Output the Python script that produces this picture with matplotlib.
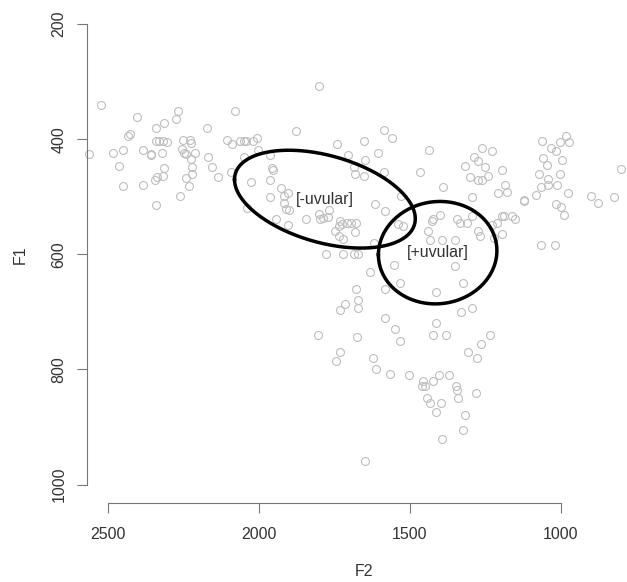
import numpy as np
import matplotlib
matplotlib.use("Agg")
from matplotlib import pyplot as plt

plt.rcParams['font.family'] = ['Liberation Sans', 'DejaVu Sans']

# vowel tokens, F2 and F1 in Hz, grouped by the part of the plot they sit in
f2_front = [2521, 2402, 2266, 2272, 2314, 2341, 2171, 2431, 2425, 2561, 2481, 2450,
            2461, 2382, 2357, 2356, 2341, 2329, 2316, 2303, 2321, 2252, 2226, 2223,
            2254, 2248, 2239, 2212, 2224, 2221, 2221, 2314, 2317, 2336, 2342, 2242,
            2229, 2259, 2449, 2382, 2341, 2168, 2156, 2133]
f1_front = [341, 361, 350, 365, 371, 381, 381, 394, 390, 425, 424, 418,
            446, 419, 425, 428, 403, 403, 403, 404, 424, 401, 402, 406,
            416, 424, 425, 423, 435, 448, 461, 450, 463, 466, 470, 468,
            482, 499, 482, 480, 514, 431, 448, 465]

f2_mid = [1802, 2078, 1876, 2105, 2089, 2061, 2050, 2042, 2020, 2004, 2003, 2049,
          1962, 1741, 1703, 1653, 1648, 1684, 1680, 1653, 2092, 2026, 1956, 1952,
          1962, 1927, 1915, 1902, 1962, 1917, 1910, 1899, 2040, 1944, 1902, 1845,
          1802, 1798, 1787, 1770, 1767, 1732, 1725, 1734, 1709, 1696, 1679, 1681,
          1748, 1734, 1720, 1776, 1722, 1684, 1671]
f1_mid = [307, 351, 386, 401, 409, 403, 403, 403, 403, 397, 419, 431,
          428, 408, 428, 403, 436, 448, 460, 464, 457, 474, 450, 453,
          470, 484, 499, 493, 500, 510, 521, 522, 520, 539, 549, 539,
          529, 538, 536, 535, 522, 542, 548, 550, 545, 546, 546, 561,
          560, 568, 574, 600, 600, 600, 600]

f2_back = [1587, 1560, 1604, 1587, 1438, 1468, 1389, 1317, 1289, 1262, 1229, 1273,
           1251, 1300, 1273, 1262, 1240, 1196, 1293, 1210, 1185, 1179, 1615, 1582,
           1529, 1538, 1521, 1427, 1400, 1422, 1345, 1334, 1312, 1295, 1440, 1433,
           1394, 1352, 1273, 1267, 1229, 1212, 1196, 1190, 1163, 1152, 1222, 1196,
           1620]
f1_back = [384, 397, 423, 456, 419, 457, 483, 446, 430, 415, 421, 438,
           448, 465, 470, 471, 464, 454, 500, 493, 479, 492, 513, 525,
           499, 548, 551, 542, 531, 539, 538, 546, 546, 534, 560, 575,
           575, 575, 560, 568, 549, 546, 533, 534, 534, 539, 571, 565,
           580]

f2_far = [1063, 985, 1003, 975, 1032, 1016, 1058, 1047, 997, 1073, 1044, 1003,
          1066, 1044, 1014, 1083, 977, 1124, 1121, 901, 879, 826, 800, 1016,
          1000, 990, 1066, 1019]
f1_far = [403, 395, 405, 405, 415, 420, 433, 444, 436, 461, 469, 460,
          483, 480, 479, 496, 493, 505, 508, 498, 510, 500, 451, 513,
          518, 531, 583, 583]

f2_low = [1552, 1632, 1533, 1583, 1677, 1671, 1671, 1713, 1732, 1412, 1351, 1324,
          1332, 1296, 1582, 1550, 1533, 1414, 1423, 1382, 1803, 1674, 1235, 1263,
          1307, 1279, 1732, 1743, 1621, 1612, 1566, 1503, 1456, 1461, 1450, 1423,
          1403, 1370, 1348, 1343, 1342, 1442, 1432, 1414, 1398, 1282, 1318, 1325,
          1392, 1650]
f1_low = [619, 630, 650, 660, 660, 679, 693, 687, 696, 665, 620, 650,
          700, 693, 710, 730, 750, 720, 740, 740, 740, 744, 740, 756,
          769, 780, 770, 785, 780, 799, 807, 810, 820, 829, 828, 820,
          810, 810, 828, 835, 849, 849, 859, 873, 859, 840, 879, 905,
          920, 959]

# ellipse for each group: centre, spread and correlation
ell_labels = ['[-uvular]', '[+uvular]']
ell_f2 = [1781, 1408]
ell_f1 = [504, 597]
ell_sd2 = [299, 196]
ell_sd1 = [85, 89]
ell_rho = [-0.40, 0.04]

F2 = f2_front + f2_mid + f2_back + f2_far + f2_low
F1 = f1_front + f1_mid + f1_back + f1_far + f1_low

fig = plt.figure(figsize=(6.27, 5.82), dpi=100)
ax = fig.add_axes([87 / 627, 79 / 582, 555 / 627, 497.2 / 582])

ax.plot(F2, F1, 'o', mfc='none', mec='#bebebe', ms=5.7, mew=0.8, clip_on=False)

t = np.linspace(0, 2 * np.pi, 400)
for i in range(len(ell_labels)):
    d = np.arccos(ell_rho[i])
    ex = ell_f2[i] + ell_sd2[i] * np.cos(t)
    ey = ell_f1[i] + ell_sd1[i] * np.cos(t - d)
    ax.plot(ex, ey, color='black', lw=2.5)
    ax.text(ell_f2[i], ell_f1[i], ell_labels[i], ha='center', va='center',
            fontsize=11.5, color='#333333')

ax.set_xlim(2568, 732)
ax.set_ylim(1032, 168)

ax.spines['top'].set_visible(False)
ax.spines['right'].set_visible(False)
ax.spines['left'].set_bounds(200, 1000)
ax.spines['bottom'].set_bounds(1000, 2500)
for s in ['left', 'bottom']:
    ax.spines[s].set_color('#777777')
    ax.spines[s].set_linewidth(0.8)

ax.set_xticks([2500, 2000, 1500, 1000])
ax.set_yticks([200, 400, 600, 800, 1000])
ax.tick_params(direction='out', length=7.2, width=0.8, color='#777777',
               labelsize=11.5, labelcolor='#333333')
ax.tick_params(axis='x', pad=10)
ax.tick_params(axis='y', pad=7.5, labelrotation=90)
for lab in ax.get_yticklabels():
    lab.set_va('center')

ax.set_xlabel('F2', fontsize=11.5, color='#333333')
ax.set_ylabel('F1', fontsize=11.5, color='#333333')
ax.xaxis.set_label_coords(0.5, -69 / 497.2)
ax.xaxis.label.set_va('center')
ax.yaxis.set_label_coords(-67 / 555, 0.5)
ax.yaxis.label.set_va('center')

fig.savefig('out.png', dpi=100)
